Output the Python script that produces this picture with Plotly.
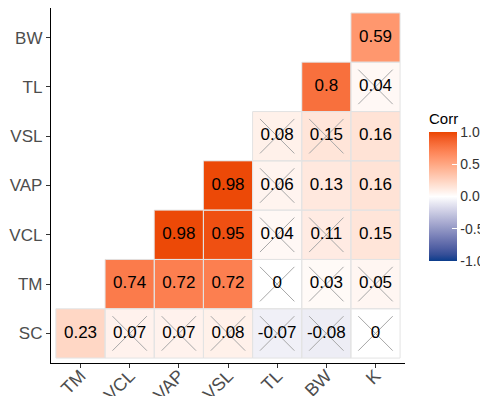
import plotly.graph_objects as go
import numpy as np

x_vars = ["TM", "VCL", "VAP", "VSL", "TL", "BW", "K"]
y_vars = ["SC", "TM", "VCL", "VAP", "VSL", "TL", "BW"]

# correlation values per row (y_vars), columns x_vars; None = empty
row_SC = [0.23, 0.07, 0.07, 0.08, -0.07, -0.08, 0]
row_TM = [None, 0.74, 0.72, 0.72, 0, 0.03, 0.05]
row_VCL = [None, None, 0.98, 0.95, 0.04, 0.11, 0.15]
row_VAP = [None, None, None, 0.98, 0.06, 0.13, 0.16]
row_VSL = [None, None, None, None, 0.08, 0.15, 0.16]
row_TL = [None, None, None, None, None, 0.8, 0.04]
row_BW = [None, None, None, None, None, None, 0.59]

# insignificant flags (crossed)
ins_SC = [0, 1, 1, 1, 1, 1, 1]
ins_TM = [0, 0, 0, 0, 1, 1, 1]
ins_VCL = [0, 0, 0, 0, 1, 1, 0]
ins_VAP = [0, 0, 0, 0, 1, 0, 0]
ins_VSL = [0, 0, 0, 0, 1, 1, 0]
ins_TL = [0, 0, 0, 0, 0, 0, 1]
ins_BW = [0, 0, 0, 0, 0, 0, 0]

rows = [row_SC, row_TM, row_VCL, row_VAP, row_VSL, row_TL, row_BW]
insig = [ins_SC, ins_TM, ins_VCL, ins_VAP, ins_VSL, ins_TL, ins_BW]

low_col, mid_col, high_col = "#0B3D8C", "#FFFFFF", "#EB4500"


# ---- Lab interpolation like ggplot's scale_fill_gradient2 ----
def hex2rgb(h):
    h = h.lstrip("#")
    return [int(h[i:i + 2], 16) / 255 for i in (0, 2, 4)]


def srgb2lin(c):
    return c / 12.92 if c <= 0.04045 else ((c + 0.055) / 1.055) ** 2.4


def lin2srgb(c):
    c = min(max(c, 0), 1)
    return 12.92 * c if c <= 0.0031308 else 1.055 * c ** (1 / 2.4) - 0.055


M = np.array([[0.4124, 0.3576, 0.1805], [0.2126, 0.7152, 0.0722], [0.0193, 0.1192, 0.9505]])
Minv = np.linalg.inv(M)
WP = M @ np.ones(3)


def f(t):
    return t ** (1 / 3) if t > 216 / 24389 else (24389 / 27 * t + 16) / 116


def finv(t):
    return t ** 3 if t ** 3 > 216 / 24389 else (116 * t - 16) / (24389 / 27)


def rgb2lab(rgb):
    xyz = M @ np.array([srgb2lin(c) for c in rgb]) / WP
    fx, fy, fz = [f(v) for v in xyz]
    return np.array([116 * fy - 16, 500 * (fx - fy), 200 * (fy - fz)])


def lab2hex(lab):
    L, a, b = lab
    fy = (L + 16) / 116
    fx = fy + a / 500
    fz = fy - b / 200
    xyz = np.array([finv(fx), finv(fy), finv(fz)]) * WP
    rgb = [lin2srgb(c) for c in Minv @ xyz]
    return "#%02x%02x%02x" % tuple(int(round(c * 255)) for c in rgb)


lab_lo, lab_mid, lab_hi = rgb2lab(hex2rgb(low_col)), rgb2lab(hex2rgb(mid_col)), rgb2lab(hex2rgb(high_col))
colorscale = []
n = 20
for i in range(n + 1):
    t = i / n
    if t <= 0.5:
        u = t / 0.5
        lab = lab_lo + (lab_mid - lab_lo) * u
    else:
        u = (t - 0.5) / 0.5
        lab = lab_mid + (lab_hi - lab_mid) * u
    colorscale.append([t, lab2hex(lab)])

z = [[np.nan if v is None else v for v in r] for r in rows]

# page has an 8px body margin; figure is sized so the plot lands where the reference has it
L_M, R_M, T_M, B_M = 43, 83, 0, 33
W, H = 480, 388
pw, ph = W - L_M - R_M, H - T_M - B_M

fig = go.Figure()
fig.add_trace(go.Heatmap(
    z=z, x=list(range(len(x_vars))), y=list(range(len(y_vars))),
    zmin=-1, zmax=1, colorscale=colorscale, hoverinfo="skip",
    colorbar=dict(
        title=dict(text="Corr", side="top", font=dict(size=15, color="black")),
        x=(421 - L_M) / pw, xanchor="left", xpad=0,
        y=(H - B_M - 177.5) / ph, yanchor="middle", ypad=0,
        thickness=28, lenmode="pixels", len=151,
        tickvals=[-1, -0.5, 0, 0.5, 1], ticktext=["-1.0", "-0.5", "0.0", "0.5", "1.0"],
        ticks="inside", tickcolor="white", ticklen=5, tickwidth=1,
        outlinewidth=0, tickfont=dict(size=14, color="#333333"),
    ),
))

# cell outlines
shapes = []
for j, r in enumerate(rows):
    for i, v in enumerate(r):
        if v is not None:
            shapes.append(dict(type="rect", xref="x", yref="y",
                               x0=i - 0.5, x1=i + 0.5, y0=j - 0.5, y1=j + 0.5,
                               line=dict(color="#E3E3E3", width=1), layer="above"))

# crosses for insignificant cells
cx, cy = [], []
d = 0.35
for j, r in enumerate(rows):
    for i, v in enumerate(r):
        if v is not None and insig[j][i]:
            cx += [i - d, i + d, None, i - d, i + d, None]
            cy += [j - d, j + d, None, j + d, j - d, None]
fig.add_trace(go.Scatter(x=cx, y=cy, mode="lines", line=dict(color="#A8A8A8", width=1),
                         hoverinfo="skip", showlegend=False))

# labels
tx, ty, tt = [], [], []
for j, r in enumerate(rows):
    for i, v in enumerate(r):
        if v is not None:
            tx.append(i)
            ty.append(j)
            tt.append(f"{v:g}")
fig.add_trace(go.Scatter(x=tx, y=ty, text=tt, mode="text",
                         textfont=dict(size=17, color="black", family="Liberation Sans, Arial"),
                         hoverinfo="skip", showlegend=False))

axis_common = dict(showline=True, linecolor="black", linewidth=1.3, mirror=False,
                   ticks="outside", ticklen=4, tickcolor="#333333", tickwidth=1,
                   showgrid=False, zeroline=False, automargin=False,
                   tickfont=dict(size=17, color="#4D4D4D", family="Liberation Sans, Arial"),
                   range=[-0.6, 6.6], fixedrange=True)

fig.update_layout(
    width=W, height=H,
    margin=dict(l=L_M, r=R_M, t=T_M, b=B_M, autoexpand=False),
    paper_bgcolor="white", plot_bgcolor="white",
    font=dict(family="Liberation Sans, Arial"),
    shapes=shapes,
    xaxis=dict(axis_common, tickvals=list(range(len(x_vars))), ticktext=x_vars, tickangle=-45,
               ticklabelstandoff=-10, tickfont=dict(size=18, color="#4D4D4D",
                                                    family="Liberation Sans, Arial")),
    yaxis=dict(axis_common, tickvals=list(range(len(y_vars))), ticktext=y_vars),
    showlegend=False,
)

fig.write_html("out.html")
